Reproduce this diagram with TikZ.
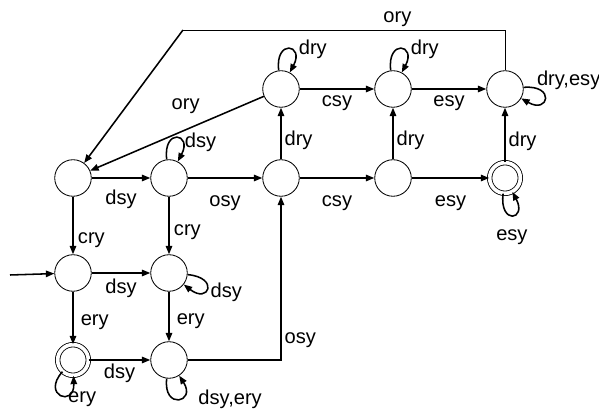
\documentclass[tikz,border=0pt]{standalone}
\usepackage{fontspec}
\setmainfont{Liberation Sans}
\usetikzlibrary{arrows.meta,positioning}

\begin{document}
\begin{tikzpicture}[
  state/.style={circle, draw, line width=0.6pt, on grid,
                minimum size=26pt, inner sep=0pt},
  accept/.style={state, double, double distance=2.6pt, minimum size=21.8pt},
  trans/.style={draw, line width=1.1pt, -{Triangle[length=6pt,width=4.6pt]}},
  lbl/.style={inner sep=2pt},
  node distance=2.8cm,
  font=\fontsize{14.3}{17}\selectfont,
]
  \useasboundingbox (0,0) rectangle (14.975,10.25);

  % middle row
  \node[state] (s21) at (1.825,5.8) {};
  \node[state, right=2.4cm of s21] (s22) {};
  \node[state, right=of s22] (s23) {};
  \node[state, right=of s23] (s24) {};
  \node[accept, right=of s24] (s25) {};
  % top row
  \node[state, above=2.225cm of s23] (s13) {};
  \node[state, above=2.225cm of s24] (s14) {};
  \node[state, above=2.225cm of s25] (s15) {};
  % lower rows
  \node[state, below=2.375cm of s21] (s31) {};
  \node[state, below=2.375cm of s22] (s32) {};
  \node[accept, below=2.175cm of s31] (s41) {};
  \node[state, below=2.175cm of s32] (s42) {};

  \coordinate (init) at (0.25,3.375);
  \coordinate (bend) at (4.575,9.5);

  % horizontal transitions
  \path[trans] (s13) edge node[lbl, below, yshift=-2pt] {csy} (s14)
               (s14) edge node[lbl, below, yshift=-2pt] {esy} (s15)
               (s21) edge node[lbl, below, yshift=-6pt] {dsy} (s22)
               (s22) edge node[lbl, below, yshift=-10pt] {osy} (s23)
               (s23) edge node[lbl, below, yshift=-10pt] {csy} (s24)
               (s24) edge node[lbl, below, yshift=-10pt] {esy} (s25)
               (s31) edge node[lbl, below, yshift=-2pt] {dsy} (s32)
               (s41) edge node[lbl, below] {dsy} (s42);

  % vertical transitions
  \path[trans] (s23) edge node[lbl, right, pos=0.375] {dry} (s13)
               (s24) edge node[lbl, right, pos=0.375] {dry} (s14)
               (s25) edge node[lbl, right, pos=0.375] {dry} (s15)
               (s21) edge node[lbl, right, pos=0.65, xshift=1pt, yshift=-4pt] {cry} (s31)
               (s22) edge node[lbl, right, pos=0.56, xshift=1pt, yshift=-2pt] {cry} (s32)
               (s31) edge node[lbl, right, xshift=3pt, yshift=-3pt] {ery} (s41)
               (s32) edge node[lbl, right, xshift=3pt, yshift=-3pt] {ery} (s42);

  % long transitions
  \draw[trans] (s13) -- node[lbl, above, pos=0.45, yshift=9pt] {ory} (s21);
  \draw[line width=0.6pt] (s15.north) |- node[lbl, above, pos=0.667] {ory} (bend);
  \draw[trans] (bend) -- (s21);
  \draw[trans] (s42) -| node[lbl, right, pos=0.561] {osy} (s23);
  \draw[trans] (init) -- (s31);

  % loops
  \path[trans] (s22) edge[out=97, in=62, min distance=8mm]
                 node[lbl, right, pos=0.7] {dsy} (s22)
               (s13) edge[out=97, in=62, min distance=8mm]
                 node[lbl, right, pos=0.45, xshift=6pt] {dry} (s13)
               (s14) edge[out=97, in=62, min distance=8mm]
                 node[lbl, right, pos=0.45, xshift=6pt] {dry} (s14)
               (s15) edge[out=5, in=-30, min distance=8mm]
                 node[lbl, above, xshift=17pt, yshift=3pt] {dry,esy} (s15)
               (s32) edge[out=-5, in=-38, min distance=8mm]
                 node[lbl, right, yshift=-3pt] {dsy} (s32)
               (s25) edge[out=263, in=298, min distance=8mm]
                 node[lbl, below, yshift=-8pt] {esy} (s25)
               (s41) edge[out=228, in=272, min distance=8mm]
                 node[lbl, right, xshift=3pt, yshift=-3pt] {ery} (s41)
               (s42) edge[out=263, in=303, min distance=8mm]
                 node[lbl, right, xshift=12pt] {dsy,ery} (s42);
\end{tikzpicture}
\end{document}
